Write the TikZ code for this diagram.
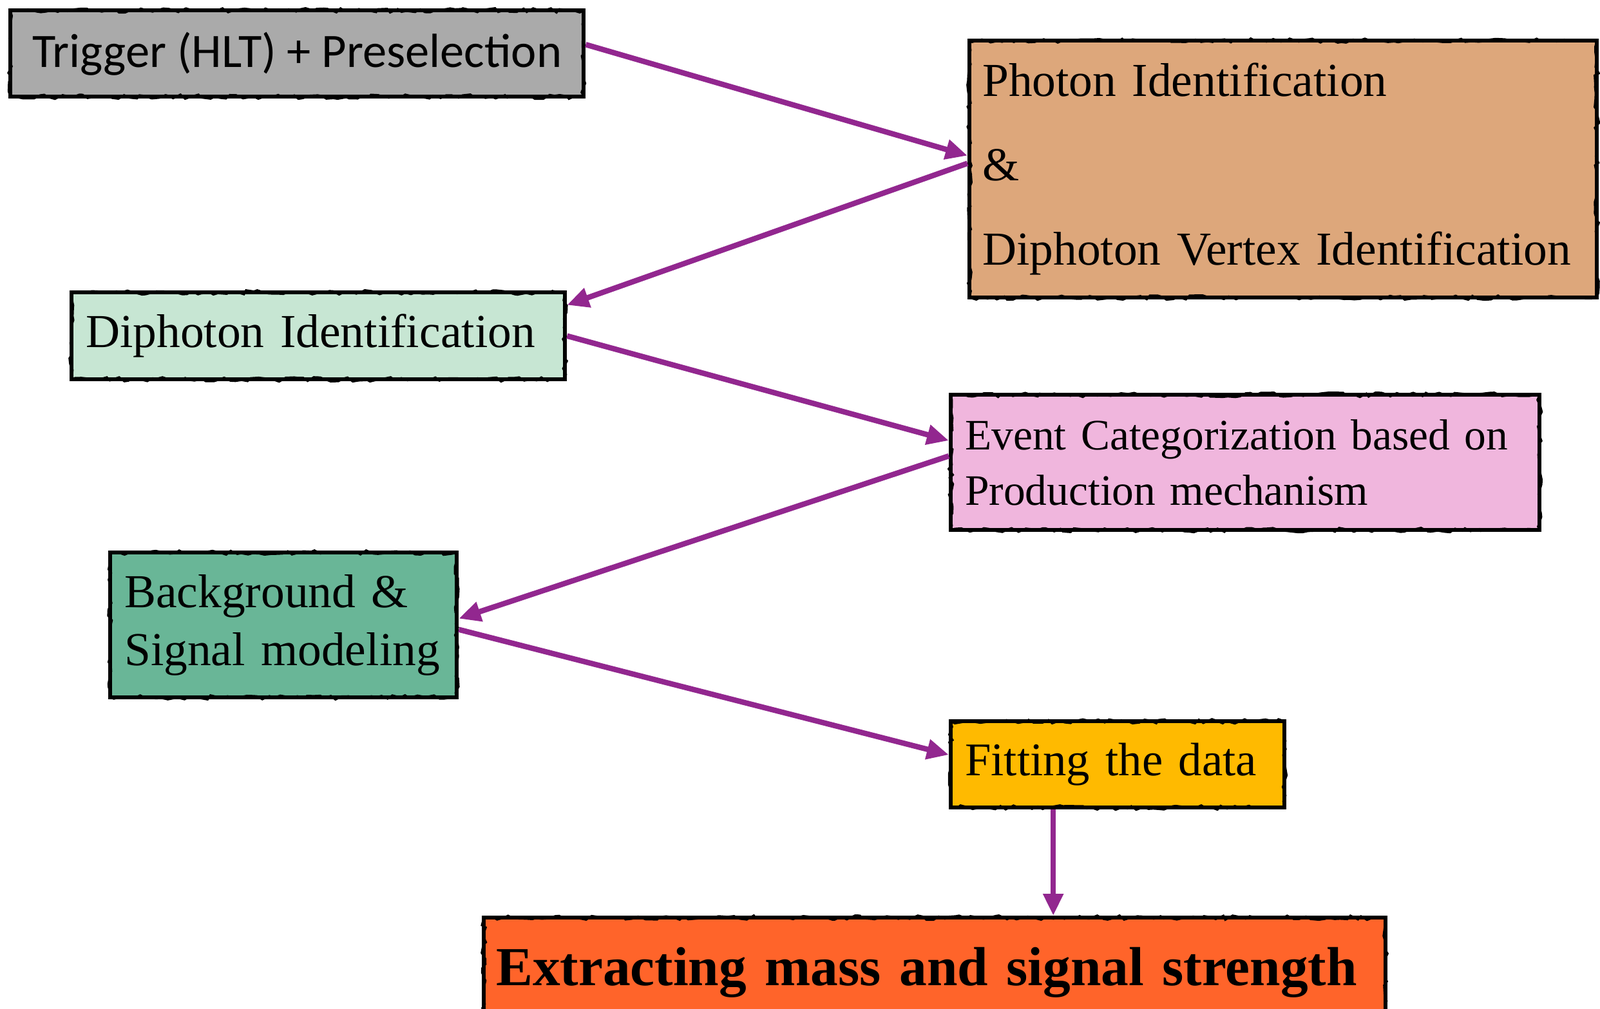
\documentclass[tikz,border=0pt]{standalone}
\usepackage{fontspec}
\setmainfont{Liberation Serif}
\newfontfamily\trigfont{Carlito}
\usepackage{tikz}
\usetikzlibrary{arrows.meta, positioning, decorations.pathmorphing}
\definecolor{triggray}{RGB}{170, 170, 170}
\definecolor{photontan}{RGB}{221, 167, 123}
\definecolor{diphmint}{RGB}{199, 230, 211}
\definecolor{eventpink}{RGB}{240, 182, 221}
\definecolor{bggreen}{RGB}{105, 182, 151}
\definecolor{fityellow}{RGB}{255, 186, 0}
\definecolor{extorange}{RGB}{255, 100, 42}
\definecolor{flowpurple}{RGB}{146, 39, 143}

\tikzset{
  stagebox/.style={draw=black, line width=1.8pt, anchor=north west, align=left, inner ysep=0pt,
    execute at begin node={\hyphenpenalty=10000},
    postaction={draw=black, line width=0.9pt, decorate,
      decoration={random steps, segment length=2.5pt, amplitude=1pt}}},
  flow/.style={flowpurple, line width=2.4pt, -{Triangle[length=0.34cm, width=0.3cm]}},
}

\begin{document}
\begin{tikzpicture}
  \useasboundingbox (0, 0) rectangle (24.84, -15.67);

  \node[stagebox, fill=triggray, minimum width=8.9cm, minimum height=1.34cm,
    font=\trigfont\fontsize{21.2}{25}\selectfont] (trig) at (0.13, -0.13) {Trigger (HLT) + Preselection};

  \node[stagebox, fill=photontan, minimum height=3.99cm, inner xsep=0.2cm, text width=9.34cm,
    font=\fontsize{20.9}{37.3}\selectfont] (photon) at (15.02, -0.60)
    {Photon Identification\\\&\\Diphoton Vertex Identification};

  \node[stagebox, fill=diphmint, minimum height=1.35cm, inner xsep=0.22cm, text width=7.22cm,
    font=\fontsize{20.9}{25.6}\selectfont] (diph) at (1.08, -4.51) {Diphoton Identification};

  \node[stagebox, fill=eventpink, minimum height=2.10cm, inner xsep=0.22cm, text width=8.70cm,
    font=\fontsize{19.2}{24.4}\selectfont] (event) at (14.73, -6.10)
    {Event Categorization based on\\Production mechanism};

  \node[stagebox, fill=bggreen, minimum height=2.25cm, inner xsep=0.22cm, text width=4.94cm,
    font=\fontsize{20.9}{25.6}\selectfont] (bgsig) at (1.68, -8.55)
    {Background \&\\Signal modeling};

  \node[stagebox, fill=fityellow, minimum height=1.34cm, inner xsep=0.22cm, text width=4.74cm,
    font=\fontsize{20.7}{25.6}\selectfont] (fit) at (14.73, -11.17) {Fitting the data};

  \node[stagebox, fill=extorange, minimum height=1.70cm, inner xsep=0.19cm, text width=13.62cm,
    font=\bfseries\fontsize{24.3}{29}\selectfont] (extract) at (7.48, -14.22)
    {Extracting mass and signal strength};

  \draw[flow] ([yshift=0.14cm]trig.east) -- ([yshift=0.21cm]photon.west);
  \draw[flow] ([yshift=0.09cm]photon.west) -- ([yshift=0.48cm]diph.east);
  \draw[flow] (diph.east) -- ([yshift=0.34cm]event.west);
  \draw[flow] ([yshift=0.10cm]event.west) -- ([yshift=0.10cm]bgsig.east);
  \draw[flow] ([yshift=-0.07cm]bgsig.east) -- ([yshift=0.15cm]fit.west);
  \draw[flow] ([xshift=-1cm]fit.south) -- ([xshift=-1cm]fit.south |- extract.north);
\end{tikzpicture}
\end{document}
